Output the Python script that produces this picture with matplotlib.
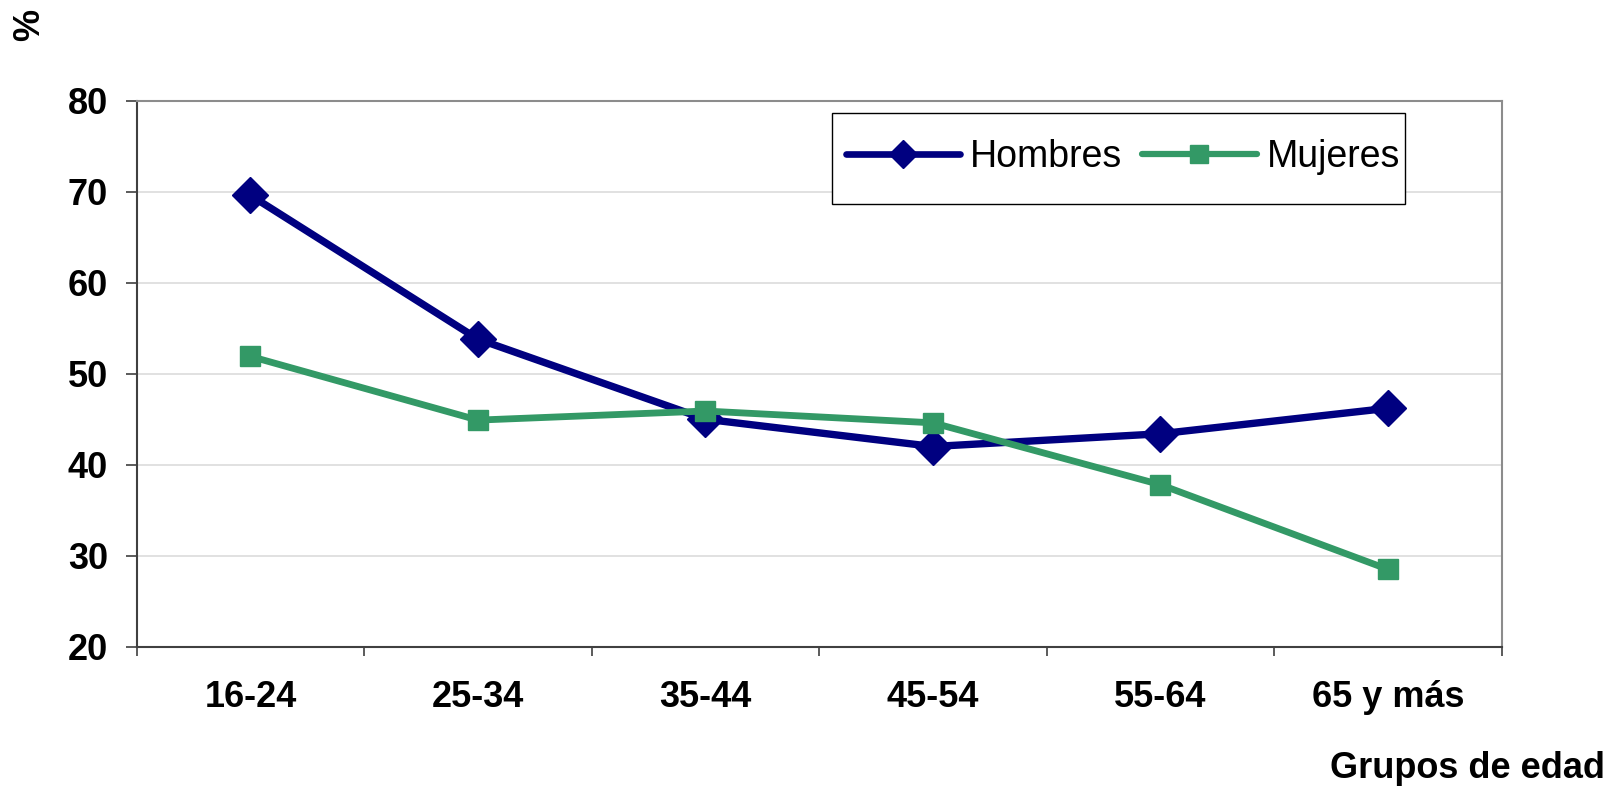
import matplotlib
matplotlib.use("Agg")
import matplotlib.pyplot as plt
from matplotlib.lines import Line2D
from matplotlib.patches import Rectangle

categories = ["16-24", "25-34", "35-44", "45-54", "55-64", "65 y más"]
hombres = [69.6, 53.8, 45.0, 42.0, 43.4, 46.2]
mujeres = [51.9, 44.9, 45.9, 44.6, 37.8, 28.5]
yticks = [20, 30, 40, 50, 60, 70, 80]

plt.rcParams['font.family'] = ['Liberation Sans', 'DejaVu Sans']

W, H = 1614, 786
fig = plt.figure(figsize=(W / 100, H / 100), dpi=100)
AX_L, AX_B, AX_W, AX_H = 136.7, 646.7, 1365, 546
ax = fig.add_axes([AX_L / W, 1 - AX_B / H, AX_W / W, AX_H / H])

navy = '#000080'
green = '#339966'
x = list(range(len(categories)))

ax.plot(x, hombres, color=navy, lw=5.3, marker='D', ms=18.5, mec=navy, mfc=navy,
        zorder=3, solid_joinstyle='round', solid_capstyle='round')
ax.plot(x, mujeres, color=green, lw=4.9, marker='s', ms=14.4, mec=green, mfc=green,
        zorder=4, solid_joinstyle='round', solid_capstyle='round')

ax.set_xlim(-0.5, len(categories) - 0.5)
ax.set_ylim(20, 80)
ax.set_yticks(yticks)
ax.set_yticklabels([str(v) for v in yticks], fontsize=26, fontweight='bold')
ax.set_xticks(x)
ax.set_xticklabels(categories, fontsize=26, fontweight='bold')
ax.set_xticks([i - 0.5 for i in range(len(categories) + 1)], minor=True)
ax.tick_params(axis='x', which='major', length=0, pad=24)
ax.tick_params(axis='x', which='minor', length=6.7, width=1.2, color='#404040', direction='out')
ax.tick_params(axis='y', which='major', length=8, width=1.2, color='#404040', direction='out', pad=12.7)

for yv in yticks[1:-1]:
    ax.axhline(yv, color='#d9d9d9', lw=1.1, zorder=1)

for s in ['left', 'bottom']:
    ax.spines[s].set_color('#404040')
    ax.spines[s].set_linewidth(1.5)
for s in ['top', 'right']:
    ax.spines[s].set_color('#8c8c8c')
    ax.spines[s].set_linewidth(1.5)

def ax_x(px):
    return (px - AX_L) / AX_W
def ax_y(py):
    return (AX_B - py) / AX_H

# legend frame (pixel box 831.7..1405 x 113.3..204.3)
ax.add_patch(Rectangle((ax_x(831.7), ax_y(204.3)), ax_x(1405) - ax_x(831.7),
                       ax_y(113.3) - ax_y(204.3), transform=ax.transAxes,
                       facecolor='white', edgecolor='black', lw=1.0, zorder=6,
                       clip_on=False))

handles = [
    Line2D([], [], color=navy, lw=4.8, marker='D', ms=14.2, mec=navy, mfc=navy, solid_capstyle='round'),
    Line2D([], [], color=green, lw=4.5, marker='s', ms=13.5, mec=green, mfc=green, solid_capstyle='round'),
]
leg = ax.legend(handles, ["Hombres", "Mujeres"], ncol=2, loc='center',
                bbox_to_anchor=(ax_x(1122.9), ax_y(157)),
                borderaxespad=0, borderpad=0, fontsize=27, handlelength=3.05,
                handletextpad=0.27, columnspacing=0.53, frameon=False)
leg.set_zorder(7)

fig.text(29.7 / W, 1 - 24.7 / H, "%", rotation=90, fontsize=26, fontweight='bold',
         ha='center', va='center')
fig.text(1605 / W, 1 - 768 / H, "Grupos de edad", fontsize=26, fontweight='bold',
         ha='right', va='center')

fig.savefig("out.png", dpi=100)
